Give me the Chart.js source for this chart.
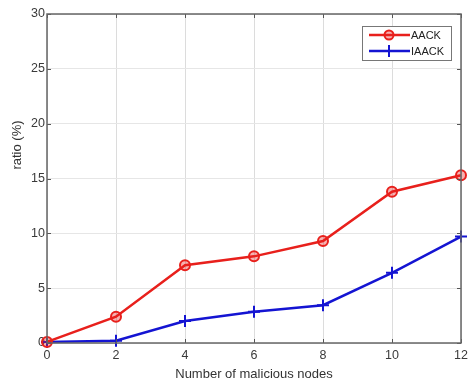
<!DOCTYPE html>
<html>
<head>
<meta charset="utf-8">
<script src="https://cdn.jsdelivr.net/npm/chart.js@4/dist/chart.umd.min.js"></script>
<style>
html,body{margin:0;padding:0;background:#fff;}
#wrap{width:469px;height:382px;position:relative;}
</style>
</head>
<body>
<div id="wrap"><canvas id="c" width="469" height="382"></canvas></div>
<script>
const nodes = [0, 2, 4, 6, 8, 10, 12];
const aack = [0.1, 2.4, 7.1, 7.9, 9.3, 13.8, 15.3];
const iaack = [0.1, 0.2, 2.0, 2.85, 3.45, 6.4, 9.7];
const seriesNames = ['AACK', 'IAACK'];
const xTitle = 'Number of malicious nodes';
const yTitle = 'ratio (%)';

const RED = '#e8201c';
const BLUE = '#1414d2';
const FONT = "'Liberation Sans', Arial, sans-serif";

const frame = {
  id: 'frame',
  afterDraw(chart) {
    const {ctx, chartArea: a, scales} = chart;
    ctx.save();
    ctx.strokeStyle = '#555';
    ctx.lineWidth = 1;
    ctx.beginPath();
    scales.x.ticks.forEach(t => {
      const px = Math.round(scales.x.getPixelForValue(t.value)) + 0.5;
      ctx.moveTo(px, a.bottom); ctx.lineTo(px, a.bottom - 4);
      ctx.moveTo(px, a.top); ctx.lineTo(px, a.top + 4);
    });
    scales.y.ticks.forEach(t => {
      const py = Math.round(scales.y.getPixelForValue(t.value)) + 0.5;
      ctx.moveTo(a.left, py); ctx.lineTo(a.left + 4, py);
      ctx.moveTo(a.right, py); ctx.lineTo(a.right - 4, py);
    });
    ctx.stroke();
    ctx.strokeStyle = '#666';
    ctx.lineWidth = 1.5;
    ctx.strokeRect(a.left, a.top, a.right - a.left, a.bottom - a.top);
    ctx.fillStyle = '#333';
    ctx.font = '13px ' + FONT;
    ctx.translate(17, 145);
    ctx.rotate(-Math.PI / 2);
    ctx.textAlign = 'center';
    ctx.textBaseline = 'middle';
    ctx.fillText(yTitle, 0, 0);
    ctx.restore();

    ctx.save();
    const lx = 362, ly = 26, lw = 89, lh = 34;
    ctx.fillStyle = '#fff';
    ctx.fillRect(lx, ly, lw, lh);
    ctx.strokeStyle = '#777';
    ctx.lineWidth = 1;
    ctx.strokeRect(lx + 0.5, ly + 0.5, lw, lh);
    chart.data.datasets.forEach((ds, i) => {
      const y = ly + 9 + i * 16;
      ctx.strokeStyle = ds.borderColor;
      ctx.lineWidth = 2.5;
      ctx.beginPath(); ctx.moveTo(lx + 7, y); ctx.lineTo(lx + 48, y); ctx.stroke();
      const cx = lx + 27;
      ctx.lineWidth = 2;
      if (ds.pointStyle === 'circle') {
        ctx.fillStyle = ds.pointBackgroundColor;
        ctx.beginPath(); ctx.arc(cx, y, 4.5, 0, Math.PI * 2); ctx.fill(); ctx.stroke();
      } else {
        ctx.beginPath(); ctx.moveTo(cx, y - 6); ctx.lineTo(cx, y + 6); ctx.stroke();
      }
      ctx.fillStyle = '#222';
      ctx.font = '11px ' + FONT;
      ctx.textBaseline = 'middle';
      ctx.textAlign = 'left';
      ctx.fillText(ds.label, lx + 49, y + 1);
    });
    ctx.restore();
  }
};

new Chart(document.getElementById('c'), {
  type: 'line',
  data: {
    datasets: [
      {
        label: seriesNames[0],
        data: nodes.map((x, i) => ({x, y: aack[i]})),
        borderColor: RED,
        borderWidth: 2.5,
        pointStyle: 'circle',
        pointRadius: 5,
        pointBorderWidth: 2,
        pointBorderColor: RED,
        pointBackgroundColor: 'rgba(232,32,28,0.35)',
        tension: 0,
        clip: false
      },
      {
        label: seriesNames[1],
        data: nodes.map((x, i) => ({x, y: iaack[i]})),
        borderColor: BLUE,
        borderWidth: 2.5,
        pointStyle: 'cross',
        pointRadius: 6,
        pointBorderWidth: 2,
        pointBorderColor: BLUE,
        pointBackgroundColor: BLUE,
        tension: 0,
        clip: false
      }
    ]
  },
  options: {
    responsive: false,
    animation: false,
    layout: {padding: {top: 14, right: 0, left: 0, bottom: 0}},
    plugins: {legend: {display: false}, tooltip: {enabled: false}},
    scales: {
      x: {
        type: 'linear',
        min: 0, max: 12,
        afterFit(s) { s.height = 39; s.paddingRight = 7; },
        ticks: {stepSize: 2, color: '#3a3a3a', font: {family: FONT, size: 12.5}, padding: 5, maxRotation: 0},
        grid: {color: '#dcdcdc', lineWidth: 1, tickLength: 0, drawTicks: false},
        border: {display: false},
        title: {display: true, text: xTitle, color: '#333', font: {family: FONT, size: 13}, padding: {top: 1, bottom: 0}}
      },
      y: {
        min: 0, max: 30,
        afterFit(s) { s.width = 47; },
        ticks: {stepSize: 5, color: '#3a3a3a', font: {family: FONT, size: 12.5}, padding: 2},
        grid: {color: '#e6e6e6', lineWidth: 1, tickLength: 0, drawTicks: false},
        border: {display: false}
      }
    }
  },
  plugins: [frame]
});
</script>
</body>
</html>
